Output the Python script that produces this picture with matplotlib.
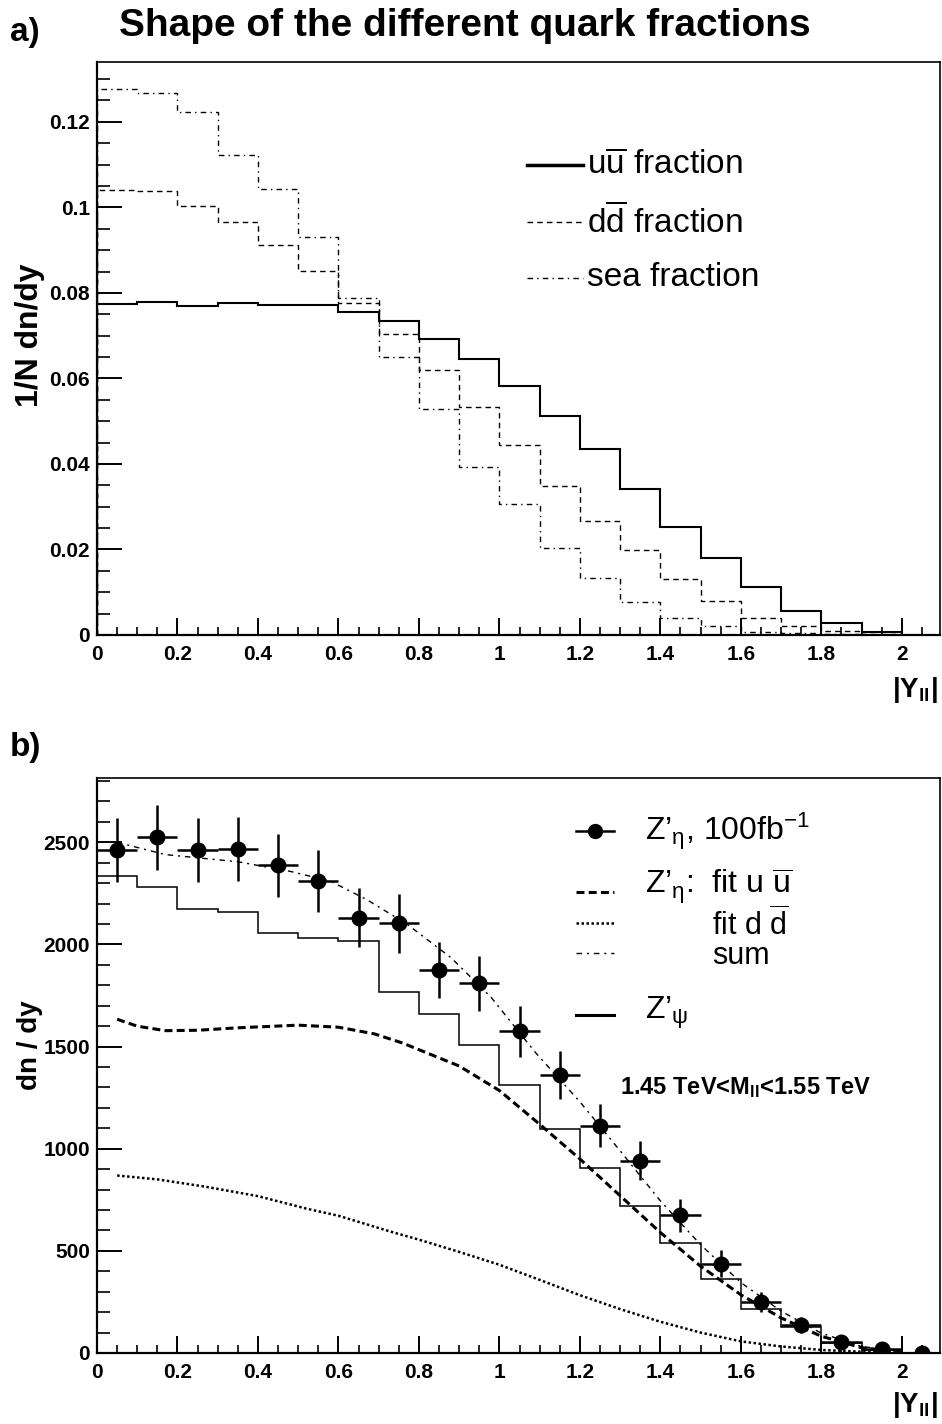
import matplotlib
matplotlib.use("Agg")
import matplotlib.pyplot as plt
import numpy as np
from matplotlib.lines import Line2D
from matplotlib.ticker import MultipleLocator

plt.rcParams.update({
    "font.family": ["Liberation Sans", "DejaVu Sans"],
    "mathtext.fontset": "custom",
    "mathtext.rm": "Liberation Sans",
    "mathtext.it": "Liberation Sans:italic",
    "mathtext.bf": "Liberation Sans:bold",
    "axes.linewidth": 1.6,
})

W, H = 942, 1424

# ---- panel a) : normalised shapes, bins of 0.1 in |Y|
edges_a = [0.0, 0.1, 0.2, 0.3, 0.4, 0.5, 0.6, 0.7, 0.8, 0.9, 1.0,
           1.1, 1.2, 1.3, 1.4, 1.5, 1.6, 1.7, 1.8, 1.9, 2.0]
uu_frac = [0.0775, 0.0778, 0.0770, 0.0777, 0.0771, 0.0771, 0.0756, 0.0734, 0.0693, 0.0646,
           0.0582, 0.0512, 0.0436, 0.0342, 0.0253, 0.0180, 0.0113, 0.0057, 0.0027, 0.0008]
dd_frac = [0.1040, 0.1038, 0.1004, 0.0965, 0.0912, 0.0852, 0.0776, 0.0705, 0.0619, 0.0533,
           0.0444, 0.0349, 0.0266, 0.0198, 0.0132, 0.0079, 0.0040, 0.0021, 0.0010, 0.0003]
sea_frac = [0.1277, 0.1267, 0.1222, 0.1122, 0.1043, 0.0930, 0.0787, 0.0650, 0.0528, 0.0393,
            0.0307, 0.0204, 0.0134, 0.0078, 0.0039, 0.0021, 0.0007, 0.0005, 0.0003, 0.0001]

# ---- panel b) : Z' rapidity, 100 fb-1
y_pts = [0.05, 0.15, 0.25, 0.35, 0.45, 0.55, 0.65, 0.75, 0.85, 0.95, 1.05,
         1.15, 1.25, 1.35, 1.45, 1.55, 1.65, 1.75, 1.85, 1.95, 2.05]
eta_n = [2461, 2525, 2464, 2469, 2388, 2310, 2132, 2103, 1875, 1809, 1574,
         1362, 1113, 942, 674, 438, 251, 137, 52, 18, 2]
eta_err = [157, 159, 157, 157, 155, 152, 146, 145, 137, 135, 126,
           117, 105, 97, 82, 66, 50, 37, 23, 13, 5]
psi_n = [2334, 2280, 2176, 2157, 2054, 2030, 2017, 1768, 1662, 1507,
         1312, 1097, 907, 718, 539, 361, 215, 126, 50, 15]

fit_uu_x = [0.05, 0.1, 0.17, 0.25, 0.35, 0.5, 0.6, 0.69, 0.76, 0.9, 1.0,
            1.1, 1.2, 1.3, 1.4, 1.5, 1.6, 1.7, 1.8, 1.9, 2.0]
fit_uu = [1634, 1600, 1578, 1580, 1592, 1605, 1595, 1562, 1517, 1405, 1285,
          1120, 950, 770, 590, 425, 285, 172, 82, 26, 5]
fit_dd_x = [0.05, 0.15, 0.27, 0.4, 0.52, 0.6, 0.73, 0.8, 0.9, 1.0,
            1.1, 1.2, 1.3, 1.4, 1.5, 1.6, 1.7, 1.8, 1.9, 2.0]
fit_dd = [869, 850, 814, 768, 707, 672, 594, 555, 495, 432,
          358, 283, 215, 153, 100, 57, 32, 15, 6, 2]
fit_sum_x = [0.05, 0.17, 0.35, 0.48, 0.58, 0.67, 0.77, 0.88, 0.98, 1.09,
             1.2, 1.3, 1.4, 1.5, 1.6, 1.7, 1.8, 1.9, 2.0]
fit_sum = [2500, 2440, 2405, 2358, 2310, 2220, 2100, 1935, 1740, 1470,
           1230, 990, 745, 530, 345, 205, 97, 32, 7]

DASH = (0, (4, 3))
DASHDOT = (0, (4, 3, 1, 3))

fig = plt.figure(figsize=(W / 100, H / 100), dpi=100)


def px_axes(l, t, r, b):
    return fig.add_axes([l / W, 1 - b / H, (r - l) / W, (b - t) / H])


def fx(x):
    return x / W


def fy(y):
    return 1 - y / H


def style_axes(ax, ymajor, yminor):
    ax.xaxis.set_major_locator(MultipleLocator(0.2))
    ax.xaxis.set_minor_locator(MultipleLocator(0.05))
    ax.yaxis.set_major_locator(MultipleLocator(ymajor))
    ax.yaxis.set_minor_locator(MultipleLocator(yminor))
    ax.tick_params(axis="y", which="major", direction="in", length=18, width=1.4,
                   labelsize=15, pad=5)
    ax.tick_params(axis="y", which="minor", direction="in", length=9, width=1.2)
    ax.tick_params(axis="x", which="major", direction="in", length=12, width=1.4,
                   labelsize=15, pad=7)
    ax.tick_params(axis="x", which="minor", direction="in", length=6, width=1.2)
    for lab in ax.get_xticklabels() + ax.get_yticklabels():
        lab.set_fontweight("bold")
    ax.spines["top"].set_linewidth(1.2)
    ax.spines["right"].set_linewidth(1.2)


def legend_line(x0, x1, y, **kw):
    fig.add_artist(Line2D([fx(x0), fx(x1)], [fy(y), fy(y)], color="black", **kw))


# ── Panel a ─────────────────────────────
ax1 = px_axes(97, 62, 940, 635)
ax1.stairs(uu_frac, edges_a, color="black", lw=1.5, baseline=0)
ax1.stairs(dd_frac, edges_a, color="black", lw=1.0, ls=DASH, baseline=0)
ax1.stairs(sea_frac, edges_a, color="black", lw=1.0, ls=DASHDOT, baseline=0)
ax1.set_xlim(0, 2.095)
ax1.set_ylim(0, 0.134)
style_axes(ax1, 0.02, 0.005)
ax1.yaxis.set_major_formatter(lambda v, p: "0" if v == 0 else f"{v:g}")
ax1.xaxis.set_major_formatter(lambda v, p: f"{v:g}")

fig.text(fx(10), fy(33), "a)", fontsize=24, fontweight="bold", va="center")
fig.text(fx(465), fy(26), "Shape of the different quark fractions", fontsize=28,
         fontweight="bold", ha="center", va="center")
fig.text(fx(30), fy(335), "1/N dn/dy", fontsize=23, fontweight="bold",
         rotation=90, ha="center", va="center")
fig.text(fx(915), fy(690), r"$\mathbf{|Y_{ll}|}$", fontsize=20, ha="center", va="center")

legend_line(527, 583, 165, lw=2.5)
legend_line(527, 583, 222, lw=1.0, ls=DASH)
legend_line(527, 583, 278, lw=1.0, ls=DASHDOT)
fig.text(fx(587), fy(165), r"u$\overline{\mathrm{u}}$ fraction", fontsize=24, va="center")
fig.text(fx(587), fy(222), r"d$\overline{\mathrm{d}}$ fraction", fontsize=24, va="center")
fig.text(fx(587), fy(278), "sea fraction", fontsize=24, va="center")

# ── Panel b ─────────────────────────────
ax2 = px_axes(97, 778, 940, 1353)
ax2.stairs(psi_n, edges_a, color="black", lw=1.1, baseline=0)
ax2.plot(fit_uu_x, fit_uu, color="black", lw=2.2, ls=(0, (2.6, 1.4)))
ax2.plot(fit_dd_x, fit_dd, color="black", lw=1.8, ls=(0, (1, 1)))
ax2.plot(fit_sum_x, fit_sum, color="black", lw=1.0, ls=(0, (4, 3.5, 1.5, 3.5)))
ax2.errorbar(y_pts, eta_n, yerr=eta_err, xerr=0.05, fmt="o", color="black",
             ms=10.5, elinewidth=1.8, capsize=0)
ax2.set_xlim(0, 2.095)
ax2.set_ylim(0, 2815)
style_axes(ax2, 500, 100)
ax2.xaxis.set_major_formatter(lambda v, p: f"{v:g}")

fig.text(fx(10), fy(747), "b)", fontsize=24, fontweight="bold", va="center")
fig.text(fx(30), fy(1045), "dn / dy", fontsize=20, fontweight="bold",
         rotation=90, ha="center", va="center")
fig.text(fx(915), fy(1405), r"$\mathbf{|Y_{ll}|}$", fontsize=20, ha="center", va="center")

# legend of panel b
legend_line(576, 614, 831, lw=1.8)
fig.add_artist(Line2D([fx(595)], [fy(831)], marker="o", ms=10, color="black"))
fig.text(fx(645), fy(831), "Z’$_{\\mathrm{η}}$, 100fb$^{\\mathrm{-1}}$", fontsize=23, va="center")
legend_line(576, 614, 892, lw=2.2, ls=(0, (2.6, 1.4)))
fig.text(fx(645), fy(886), "Z’$_{\\mathrm{η}}$:  fit u $\\overline{\\mathrm{u}}$", fontsize=23, va="center")
legend_line(576, 614, 923, lw=1.8, ls=(0, (1, 1)))
legend_line(576, 614, 953, lw=1.0, ls=(0, (4, 3.5, 1.5, 3.5)))
fig.text(fx(712), fy(939), "fit d $\\overline{\\mathrm{d}}$\nsum", fontsize=22,
         va="center", linespacing=0.95)
legend_line(576, 614, 1015, lw=2.2)
fig.text(fx(645), fy(1013), "Z’$_{\\mathrm{ψ}}$", fontsize=23, va="center")

fig.text(fx(620), fy(1088), r"1.45 TeV<M$_{\mathbf{ll}}$<1.55 TeV", fontsize=17,
         fontweight="bold", va="center")

fig.savefig("out.png", dpi=100)
